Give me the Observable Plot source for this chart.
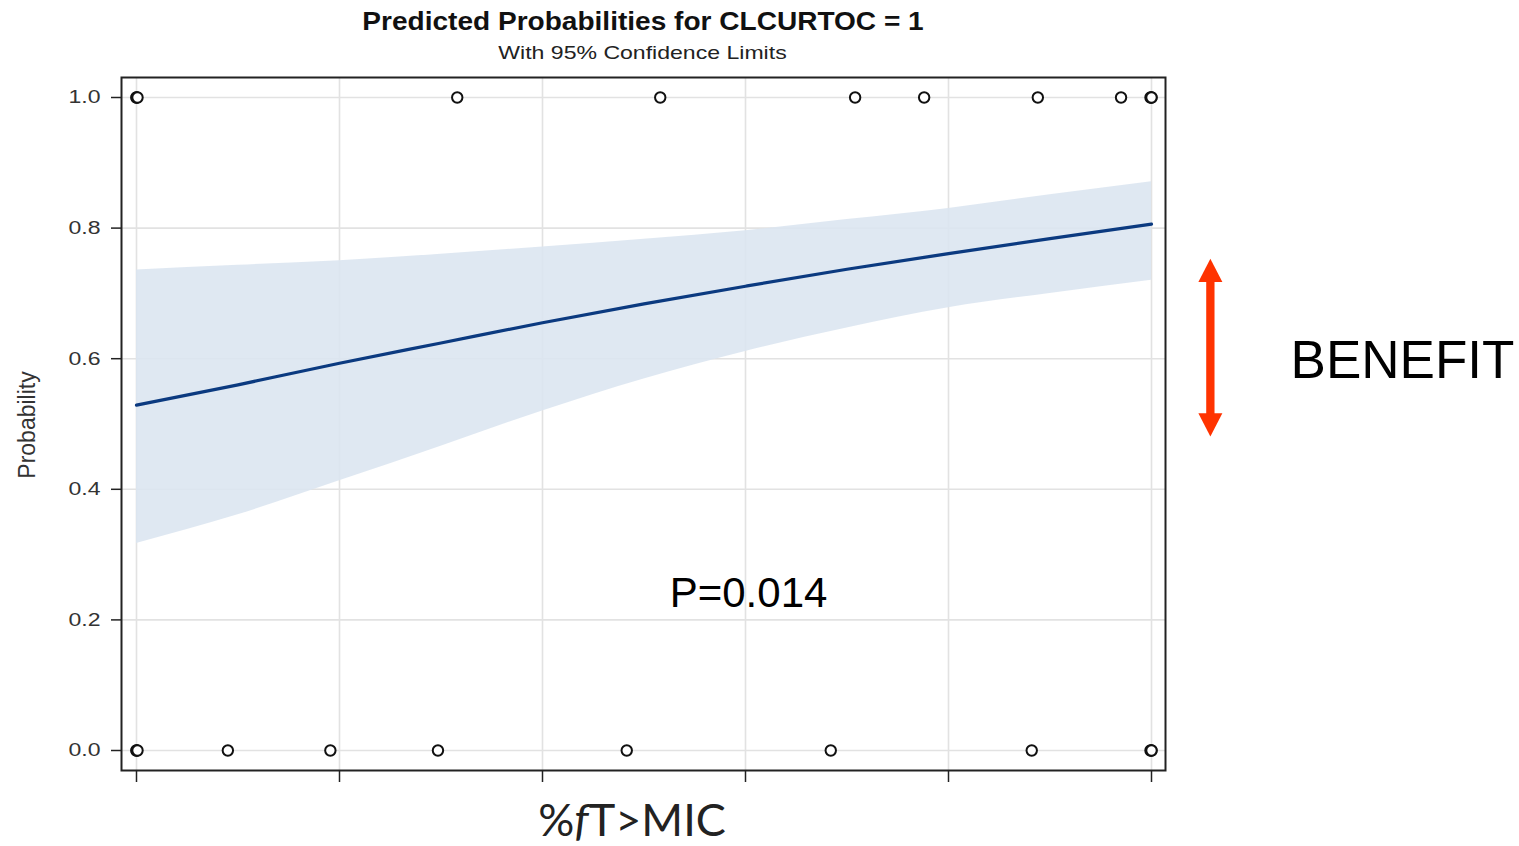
<!DOCTYPE html>
<html><head><meta charset="utf-8">
<script src="https://cdn.jsdelivr.net/npm/d3@7"></script>
<script src="https://cdn.jsdelivr.net/npm/@observablehq/plot@0.6"></script>
<style>
body{margin:0;background:#fff;width:1519px;height:846px;overflow:hidden;font-family:"Liberation Sans",Arial,sans-serif;}
#header{position:relative;height:66px;width:1519px;}
#title{position:absolute;left:0;width:1286px;top:9.4px;text-align:center;font-size:25.5px;line-height:25.5px;font-weight:bold;color:#111;transform:scaleX(1.1);transform-origin:643px 0;white-space:nowrap;}
#subtitle{position:absolute;left:0;width:1285px;top:44px;text-align:center;font-size:18.6px;line-height:18.6px;color:#222;transform:scaleX(1.24);transform-origin:642.5px 0;white-space:nowrap;}
#chart svg{display:block;overflow:visible;}
</style>
</head><body>
<div id="header"><div id="title">Predicted Probabilities for CLCURTOC = 1</div><div id="subtitle">With 95% Confidence Limits</div></div>
<div id="chart"></div>
<script>
// Observed outcomes (%fT>MIC) by response
const obsX_event = [0, 0, 0.1, 31.6, 51.6, 70.8, 77.6, 88.8, 97.0, 99.9, 100, 100];
const obsX_noEvent = [0, 0, 0.1, 9.0, 19.1, 29.7, 48.3, 68.4, 88.2, 99.9, 100, 100];
// Fitted probability curve with 95% confidence limits
const curveX = [0, 10, 20, 30, 40, 50, 60, 70, 80, 90, 100];
const predicted = [0.529, 0.560, 0.593, 0.624, 0.655, 0.684, 0.711, 0.737, 0.761, 0.784, 0.806];
const upperCL = [0.736, 0.743, 0.750, 0.760, 0.771, 0.783, 0.796, 0.813, 0.830, 0.851, 0.871];
const lowerCL = [0.317, 0.361, 0.413, 0.466, 0.520, 0.569, 0.611, 0.647, 0.678, 0.700, 0.720];
// Axis ticks
const xTicks = [0, 20, 40, 60, 80, 100];
const yTicks = [0, 0.2, 0.4, 0.6, 0.8, 1.0];
// Annotations
const pText = "P=0.014";
const pPos = {x: 60.3, y: 0.24};
const benefitLabel = "BENEFIT";
const benefitLabelPos = {x: 113.7, y: 0.596};
const benefitArrowX = 105.8;
const benefitArrowTop = 0.7346;
const benefitArrowBottom = 0.4992;

const curve = curveX.map((x, i) => ({x, p: predicted[i], lo: lowerCL[i], hi: upperCL[i]}));
const obs = [
  ...obsX_event.map(x => ({x, y: 1})),
  ...obsX_noEvent.map(x => ({x, y: 0}))
];
const arrowHead = {
  draw(ctx, size) {
    const r = Math.sqrt(size / Math.PI);
    ctx.moveTo(0, -r);
    ctx.lineTo(r, r * 0.94);
    ctx.lineTo(-r, r * 0.94);
    ctx.closePath();
  }
};
const heads = [{y: benefitArrowTop, rot: 0}, {y: benefitArrowBottom, rot: 180}];

const plot = Plot.plot({
  width: 1519,
  height: 780,
  marginLeft: 121,
  marginRight: 354,
  marginTop: 11,
  marginBottom: 76,
  style: {fontFamily: '"Liberation Sans", Arial, sans-serif', fontSize: "18.6px", color: "#333", background: "white"},
  x: {domain: [0, 100], insetLeft: 15, insetRight: 14},
  y: {domain: [0, 1], insetTop: 20, insetBottom: 20},
  marks: [
    Plot.gridX(xTicks, {stroke: "#e2e2e2", strokeOpacity: 1, strokeWidth: 1.6}),
    Plot.gridY(yTicks, {stroke: "#e2e2e2", strokeOpacity: 1, strokeWidth: 1.6}),
    Plot.areaY(curve, {x: "x", y1: "lo", y2: "hi", curve: "monotone-x", fill: "#dce5f1", fillOpacity: 0.9}),
    Plot.line(curve, {x: "x", y: "p", curve: "monotone-x", stroke: "#0b3a80", strokeWidth: 3.2}),
    Plot.dot(obs, {x: "x", y: "y", r: 5.2, fill: "white", stroke: "#111", strokeWidth: 2}),
    Plot.frame({stroke: "#222", strokeWidth: 2}),
    Plot.axisY(yTicks, {tickSize: 10, tickPadding: 11, tickFormat: d3.format(".1f"), fontSize: 18.6, fill: "#333", stroke: "#222", strokeWidth: 1.5, label: null}),
    Plot.axisX(xTicks, {tickSize: 12, tickFormat: () => "", stroke: "#222", strokeWidth: 1.5, label: null}),
    Plot.text([pText], {x: pPos.x, y: pPos.y, text: d => d, fontSize: 42, fill: "#000", textAnchor: "middle"}),
    Plot.text([benefitLabel], {x: benefitLabelPos.x, y: benefitLabelPos.y, text: d => d, fontSize: 53, fill: "#000", textAnchor: "start"}),
    Plot.ruleX([benefitArrowX], {y1: benefitArrowTop, y2: benefitArrowBottom, stroke: "#ff3300", strokeWidth: 8.3}),
    Plot.dot(heads, {x: () => benefitArrowX, y: "y", rotate: "rot", symbol: arrowHead, r: 12, fill: "#ff3300", stroke: "none"})
  ]
});
document.getElementById("chart").appendChild(plot);

const svg = d3.select(plot);
// horizontally widened tick labels, as in the reference
svg.selectAll('[aria-label="y-axis tick label"] text').each(function() {
  const t = d3.select(this);
  const tr = t.attr("transform") || "";
  t.attr("transform", tr + " scale(1.24,1)");
});
// y-axis title
svg.append("text")
  .attr("transform", "translate(35,359) rotate(-90)")
  .attr("text-anchor", "middle")
  .attr("font-size", 23)
  .attr("fill", "#333")
  .text("Probability");
// x-axis title with italic f
const xl = svg.append("text")
  .attr("x", 632).attr("y", 770)
  .attr("text-anchor", "middle")
  .attr("font-family", "Lato, 'Open Sans', sans-serif")
  .attr("font-size", 45)
  .attr("fill", "#222");
xl.append("tspan").text("%");
xl.append("tspan").attr("font-style", "italic").text("f");
xl.append("tspan").text("T>MIC");
</script>
</body></html>
